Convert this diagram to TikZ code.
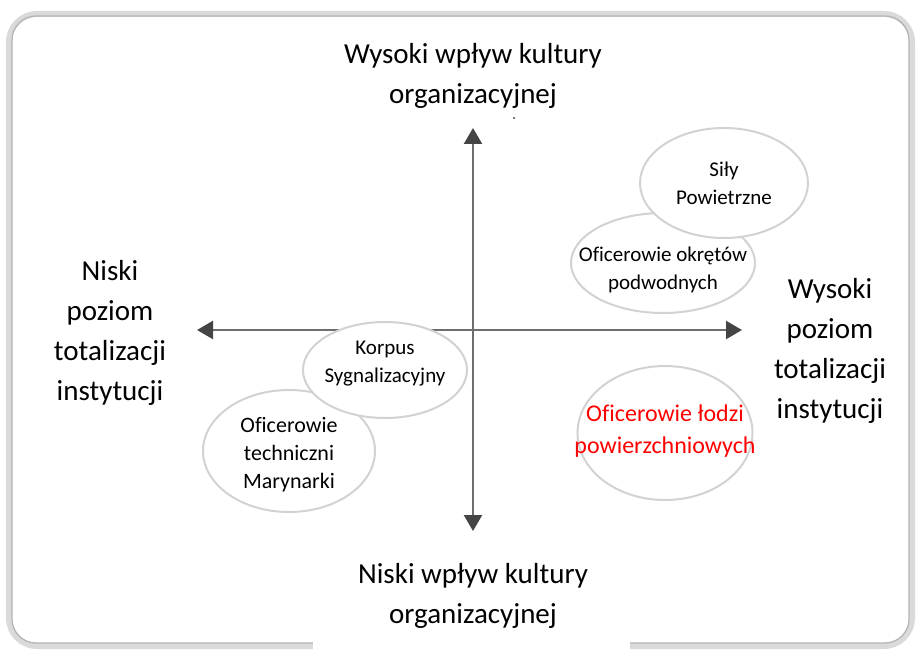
\documentclass[tikz,border=0pt]{standalone}
\usepackage{fontspec}
\setmainfont{Carlito}[Ligatures=NoCommon]
\usetikzlibrary{shapes.geometric,arrows.meta}
\definecolor{bubgray}{HTML}{D2D2D2}
\definecolor{axgray}{HTML}{6E6E6E}
\definecolor{axdark}{HTML}{454545}
\definecolor{frameout}{HTML}{DADADA}
\definecolor{framein}{HTML}{B4B4B4}
\begin{document}
\begin{tikzpicture}[x=1pt,y=-1pt,
  bub/.style={ellipse, draw=bubgray, line width=2pt, fill=white, inner sep=0pt},
  btxt/.style={align=center, inner sep=0pt, font=\fontsize{21}{28}\selectfont},
  axlabel/.style={align=center, inner sep=0pt, font=\fontsize{29}{40}\selectfont},
  axis/.style={draw=axgray, line width=2.3pt, -{Triangle[length=16pt,width=18pt,color=axdark]}}]
\useasboundingbox (0,0) rectangle (918,650);
% frame
\draw[frameout, line width=6pt, rounded corners=28pt] (9,14) rectangle (912,646);
\draw[framein, line width=1.2pt, rounded corners=24pt] (12,16) rectangle (909,643);
\fill[white] (313,641) rectangle (630,650);
\fill[black!70] (514,118) circle (1.1pt);
% axes
\coordinate (o) at (473,330);
\coordinate (top) at (473,128);
\coordinate (bot) at (473,531);
\coordinate (lft) at (197,330);
\coordinate (rgt) at (742,330);
\draw[axis] (o) -- (top);
\draw[axis] (o) -- (bot);
\draw[axis] (o) -- (lft);
\draw[axis] (o) -- (rgt);
% axis labels
\node[axlabel] (tl) at (473,76) {Wysoki wpływ kultury\\organizacyjnej};
\node[axlabel] (bl) at (473,596) {Niski wpływ kultury\\organizacyjnej};
\node[axlabel] (ll) at (110,333) {Niski\\poziom\\totalizacji\\instytucji};
\node[axlabel] (rl) at (830,351) {Wysoki\\poziom\\totalizacji\\instytucji};
% bubbles
\node[bub, minimum width=184pt, minimum height=100pt] (okr) at (663,263) {};
\node[btxt] (okrT) at (663,270) {Oficerowie okrętów\\podwodnych};
\node[bub, minimum width=168pt, minimum height=110pt] (sily) at (724,183) {};
\node[btxt] (silyT) at (724,183) {Siły\\Powietrzne};
\node[bub, minimum width=172pt, minimum height=122pt] (tech) at (289,451) {};
\node[btxt, font=\fontsize{22}{28}\selectfont] (techT) at (289,455) {Oficerowie\\techniczni\\Marynarki};
\node[bub, minimum width=164pt, minimum height=96pt] (korp) at (385,370) {};
\node[btxt] (korpT) at (385,364) {Korpus\\Sygnalizacyjny};
\node[bub, minimum width=175pt, minimum height=134pt] (lodz) at (665,433) {};
\node[btxt, text=red, font=\fontsize{24}{32}\selectfont] (lodzT) at (665,431) {Oficerowie łodzi\\powierzchniowych};
\end{tikzpicture}
\end{document}
